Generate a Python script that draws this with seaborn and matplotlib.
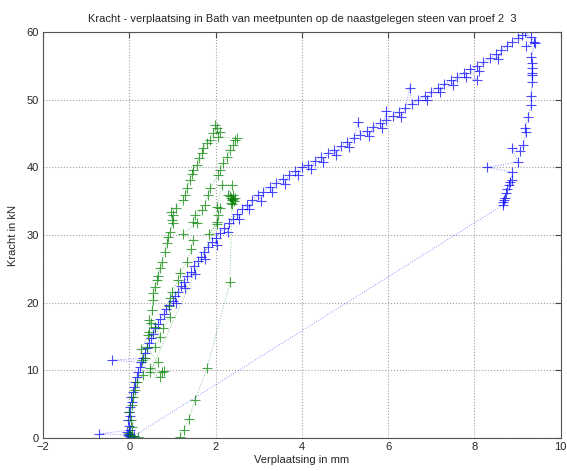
import pandas as pd
import matplotlib
matplotlib.use("Agg")
import matplotlib.pyplot as plt
import seaborn as sns

# blue series (meetpunt 2), in measurement order
blue_x = [-0.02, 0.0, 0.03, -0.05, 0.02, -0.7, -0.03, 0.0, -0.04, 0.01, -0.02, 0.02, 0.05, 0.04,
          0.08, 0.1, 0.14, 0.17, 0.2, 0.25, 0.28, -0.4, 0.32, 0.36, 0.4, 0.45, 0.5, 0.55, 0.6,
          0.66, 0.72, 0.8, 0.86, 0.92, 1.0, 1.08, 1.06, 1.12, 1.2, 1.3, 1.27, 1.34, 1.42, 1.52,
          1.5, 1.58, 1.66, 1.75, 1.74, 1.83, 1.92, 2.02, 2.0, 2.1, 2.2, 2.28, 2.3, 2.4, 2.5,
          2.55, 2.6, 2.72, 2.78, 2.85, 2.98, 3.05, 3.1, 3.25, 3.3, 3.4, 3.55, 3.6, 3.7, 3.85,
          3.9, 4.0, 4.15, 4.2, 4.3, 4.45, 4.5, 4.6, 4.75, 4.8, 4.9, 5.05, 5.1, 5.2, 5.31, 5.35,
          5.5, 5.55, 5.65, 5.8, 5.85, 5.96, 5.95, 6.1, 6.25, 6.3, 6.4, 6.5, 6.55, 6.7, 6.85,
          6.9, 7.0, 7.15, 7.2, 7.3, 7.45, 7.5, 7.6, 7.75, 7.8, 8.05, 7.9, 8.05, 8.1, 8.2, 8.35,
          8.5, 8.55, 8.62, 8.75, 8.88, 9.0, 9.1, 9.18, 9.3, 9.39, 9.2, 9.4,
          9.32, 9.33, 9.33, 9.33, 9.33, 9.34, 9.3, 9.32, 9.23, 9.18, 9.2, 9.13, 9.06, 8.88, 9.0,
          8.3, 8.88, 8.86, 8.82, 8.79, 8.76, 8.74, 8.7, 8.68, 8.65, 8.65, 0.1]
blue_y = [0.3, 0.6, 0.2, 0.9, 1.2, 0.6, 0.5, 1.8, 2.6, 3.2, 3.9, 4.6, 5.3, 6.0,
          6.8, 7.5, 8.3, 9.0, 9.8, 10.5, 11.2, 11.5, 11.8, 12.6, 13.3, 14.1, 14.8, 15.4, 16.2,
          16.9, 17.6, 18.4, 19.0, 19.6, 20.3, 20.0, 21.0, 21.6, 22.4, 22.1, 23.1, 23.9, 24.6, 24.2,
          25.4, 26.1, 26.8, 26.5, 27.5, 28.2, 29.0, 28.6, 29.6, 30.3, 31.0, 30.5, 31.8, 32.4, 33.1,
          32.4, 33.8, 34.5, 33.8, 35.2, 35.9, 35.1, 36.4, 37.1, 36.3, 37.7, 38.3, 37.5, 38.9, 39.5,
          38.8, 40.0, 40.4, 39.7, 41.0, 41.5, 40.8, 42.1, 42.6, 41.9, 43.2, 43.8, 43.0, 44.3, 46.7, 44.8,
          45.4, 44.6, 45.9, 46.5, 45.8, 48.3, 47.0, 47.6, 48.2, 47.4, 48.8, 51.8, 49.4, 50.0, 50.6,
          49.9, 51.2, 51.8, 51.1, 52.3, 52.9, 52.2, 53.4, 54.0, 53.3, 52.9, 54.5, 55.0, 54.3, 55.5, 56.1,
          56.7, 56.0, 57.4, 58.0, 58.6, 59.1, 59.6, 60.0, 59.2, 58.5, 57.9, 58.4,
          56.3, 55.4, 54.7, 54.0, 53.6, 52.6, 50.5, 49.2, 47.4, 45.8, 45.2, 43.3, 42.4, 42.8, 40.8,
          40.0, 39.3, 38.1, 37.8, 37.4, 36.8, 36.2, 35.5, 35.2, 34.9, 34.4, 0.3]

# green series (meetpunt 3), in measurement order
green_x = [0.01, 0.2, -0.02, 0.05, 0.06, 0.04, 0.0, 0.06, 0.09, 0.13, 0.18, 0.31, 0.29, 0.36,
           0.27, 0.43, 0.45, 0.5, 0.45, 0.52, 0.55, 0.55, 0.59, 0.64, 0.66, 0.71, 0.75, 0.82, 0.87, 0.9,
           0.94, 1.0, 0.99, 1.0, 0.96, 1.08, 1.24, 1.29, 1.33, 1.4, 1.45, 1.47, 1.56, 1.61, 1.68,
           1.7, 1.8, 1.87, 1.94, 2.03, 1.98, 2.1, 2.05,
           2.49, 2.45, 2.4, 2.33, 2.26, 2.17, 2.1, 2.05, 1.87, 1.82, 1.75, 1.68, 1.52, 1.47, 1.56,
           1.24, 1.47, 1.43, 1.33, 1.17, 1.13, 0.99, 0.94, 0.92, 0.94, 0.78, 0.59, 0.71, 0.59,
           0.41, 0.66, 0.48, 0.75, 0.8, 0.71, 0.48,
           2.03, 1.84, 2.03, 2.05, 2.1, 2.03, 2.14, 2.37, 2.28, 2.4, 2.35, 2.38, 2.42, 2.36, 2.4,
           2.33, 2.44, 2.38, 2.33, 1.8, 1.52, 1.38, 1.26, 1.17]
green_y = [0.4, 0.15, 0.8, 0.3, 1.6, 2.7, 3.8, 4.9, 6.1, 7.1, 8.3, 9.3, 11.5, 11.8,
           13.1, 15.2, 15.7, 17.0, 17.4, 18.9, 20.4, 21.4, 22.3, 23.3, 24.0, 25.1, 26.0, 27.5, 28.8, 29.7,
           30.4, 31.8, 32.2, 32.9, 33.4, 34.0, 35.2, 35.9, 36.9, 38.1, 39.0, 39.6, 40.3, 41.4, 42.1,
           42.8, 43.6, 44.0, 45.1, 45.8, 46.2, 45.2, 44.5,
           44.3, 44.0, 43.3, 42.5, 41.5, 40.6, 39.6, 38.8, 36.9, 35.9, 34.4, 33.7, 32.9, 31.9, 31.8,
           30.1, 29.2, 27.9, 26.0, 24.4, 23.3, 21.6, 20.7, 19.5, 17.9, 16.2, 16.4, 14.9, 13.4,
           13.4, 11.2, 10.3, 9.7, 9.9, 9.0, 9.7,
           31.6, 30.1, 31.9, 32.9, 34.0, 34.1, 37.4, 37.4, 35.9, 35.9, 35.5, 35.2, 35.0, 34.8, 35.3,
           35.7, 35.4, 34.6, 23.0, 10.3, 5.6, 2.8, 1.2, 0.15]

x_ticks = [-2, 0, 2, 4, 6, 8, 10]
y_ticks = [0, 10, 20, 30, 40, 50, 60]

blue_df = pd.DataFrame({"x": blue_x, "y": blue_y})
green_df = pd.DataFrame({"x": green_x, "y": green_y})

sns.set_style("white")
plt.rcParams["font.family"] = ["Liberation Sans", "DejaVu Sans"]

fig = plt.figure(figsize=(5.67, 4.71), dpi=100)
ax = fig.add_axes([0.076, 0.070, 0.913, 0.862])

for df, col in [(blue_df, "#0000ff"), (green_df, "#008000")]:
    sns.lineplot(data=df, x="x", y="y", sort=False, estimator=None, ax=ax,
                 color=col, linestyle=":", linewidth=0.7, alpha=0.45)
    sns.scatterplot(data=df, x="x", y="y", ax=ax, marker="+", color=col,
                    s=50, linewidth=0.8, alpha=0.7)

ax.set_xlim(-2, 10)
ax.set_ylim(0, 60)
ax.set_xticks(x_ticks)
ax.set_yticks(y_ticks)
ax.grid(True, linestyle=":", color="#a0a0a0", linewidth=0.8)
ax.tick_params(direction="in", top=True, right=True, length=4, labelsize=8, pad=3, color="#444444")
for s in ax.spines.values():
    s.set_color("#555555")
    s.set_linewidth(0.8)

ax.set_title("Kracht - verplaatsing in Bath van meetpunten op de naastgelegen steen van proef 2  3",
             fontsize=8, pad=7)
ax.set_xlabel("Verplaatsing in mm", fontsize=8, labelpad=2)
ax.set_ylabel("Kracht in kN", fontsize=8, labelpad=6)

fig.savefig("out.png", dpi=100)
plt.close(fig)
